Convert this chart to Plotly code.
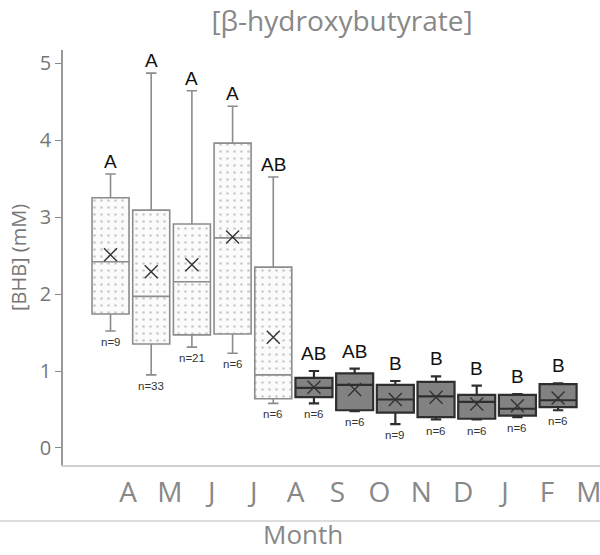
import plotly.graph_objects as go

months = ['A', 'M', 'J', 'J', 'A', 'S', 'O', 'N', 'D', 'J', 'F', 'M']
q1 = [1.74, 1.35, 1.47, 1.48, 0.64, 0.66, 0.49, 0.46, 0.40, 0.38, 0.42, 0.53]
median = [2.42, 1.97, 2.16, 2.73, 0.95, 0.78, 0.82, 0.63, 0.67, 0.60, 0.51, 0.62]
q3 = [3.25, 3.09, 2.91, 3.96, 2.35, 0.91, 0.97, 0.82, 0.86, 0.69, 0.69, 0.83]
lower = [1.52, 0.95, 1.31, 1.23, 0.58, 0.58, 0.48, 0.31, 0.37, 0.37, 0.40, 0.49]
upper = [3.56, 4.87, 4.64, 4.44, 3.52, 1.00, 1.03, 0.87, 0.93, 0.81, 0.70, 0.84]
mean = [2.51, 2.29, 2.38, 2.74, 1.44, 0.79, 0.76, 0.63, 0.66, 0.57, 0.55, 0.65]
letters = ['A', 'A', 'A', 'A', 'AB', 'AB', 'AB', 'B', 'B', 'B', 'B', 'B']
n_obs = [9, 33, 21, 6, 6, 6, 6, 9, 6, 6, 6, 6]
dotted = [True, True, True, True, True, False, False, False, False, False, False, False]

pos = list(range(len(months)))
BW = 0.91

fig = go.Figure()

# dotted fill for light boxes (bars with pattern)
for i in pos:
    if dotted[i]:
        fig.add_trace(go.Bar(
            x=[i], y=[q3[i] - q1[i]], base=[q1[i]], width=BW,
            marker=dict(color='white', line=dict(width=0),
                        pattern=dict(shape='.', fgcolor='#9a9a9a', bgcolor='#fbfbfb',
                                     size=7, solidity=0.12)),
            showlegend=False, hoverinfo='skip'))

for i in pos:
    if dotted[i]:
        lc, fc, lw = '#8c8c8c', 'rgba(0,0,0,0)', 1.6
    else:
        lc, fc, lw = '#2e2e2e', '#828282', 2.2
    fig.add_trace(go.Box(
        x=[i], q1=[q1[i]], median=[median[i]], q3=[q3[i]],
        lowerfence=[lower[i]], upperfence=[upper[i]],
        width=BW, whiskerwidth=0.28, boxpoints=False,
        line=dict(color=lc, width=lw), fillcolor=fc,
        showlegend=False, hoverinfo='skip'))

fig.add_trace(go.Scatter(
    x=pos, y=mean, mode='markers',
    marker=dict(symbol='x-thin', size=13, line=dict(color='#333333', width=1.4)),
    showlegend=False, hoverinfo='skip'))

for i in pos:
    fig.add_annotation(x=i, y=upper[i], text=letters[i], showarrow=False,
                       yanchor='bottom', yshift=0 if dotted[i] else 5,
                       font=dict(family='Liberation Sans', size=19, color='#111111'))
    fig.add_annotation(x=i, y=lower[i], text=f'n={n_obs[i]}', showarrow=False,
                       yanchor='top', yshift=-3,
                       font=dict(family='Liberation Sans', size=11.5, color='#333333'))

# month tick labels on a separate overlaying axis
fig.update_layout(
    xaxis2=dict(overlaying='x', anchor='y', side='bottom', automargin=False,
                range=[-1.551, 11.265], tickmode='array', tickvals=pos, ticktext=months,
                showgrid=False, zeroline=False, showline=False, ticks='',
                ticklabelstandoff=8, ticklabeloverflow='allow',
                tickfont=dict(family='Open Sans', size=28, color='#888888')))
fig.add_trace(go.Scatter(x=[0], y=[None], xaxis='x2', showlegend=False, hoverinfo='skip'))

fig.add_annotation(text='Month', xref='paper', yref='paper', x=0.447, y=-0.166,
                   xanchor='center', yanchor='middle', showarrow=False, borderpad=0,
                   font=dict(family='Open Sans', size=26, color='#888888'))

fig.add_shape(type='line', xref='paper', yref='paper', x0=-0.12, x1=1.0,
              y0=-0.135, y1=-0.135, line=dict(color='#dddddd', width=2))

fig.update_layout(
    width=600, height=555,
    margin=dict(l=63, r=0, t=50, b=90),
    plot_bgcolor='white', paper_bgcolor='white',
    barmode='overlay', boxmode='overlay',
    title=dict(text='[β-hydroxybutyrate]', x=0.57, xanchor='center',
               yref='container', y=0.961, yanchor='middle',
               font=dict(family='Open Sans', size=28, color='#888888')),
    xaxis=dict(range=[-1.168, 12.03], showticklabels=False, ticks='', showgrid=False,
               automargin=False,
               zeroline=False, showline=True, linecolor='#d0d0d0', linewidth=2),
    yaxis=dict(range=[-0.221, 5.17], tickvals=[0, 1, 2, 3, 4, 5], ticks='outside', ticklen=6,
               automargin=False,
               tickcolor='#888888', showgrid=False, zeroline=False, showline=True,
               linecolor='#999999', linewidth=1.5,
               tickfont=dict(family='Open Sans', size=20, color='#777777'),
               title=dict(text='[BHB] (mM)', standoff=8,
                          font=dict(family='Open Sans', size=20, color='#777777'))),
)

fig.write_html('out.html')
